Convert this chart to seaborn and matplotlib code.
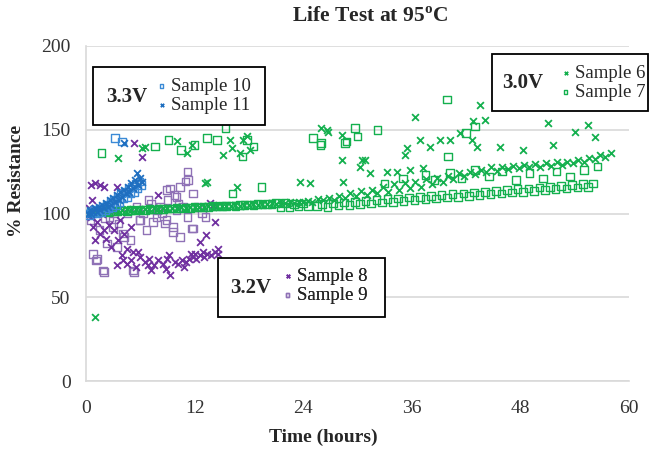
import matplotlib
matplotlib.use("Agg")
import matplotlib.pyplot as plt
from matplotlib.patches import Rectangle
import seaborn as sns

# ---------------- data ----------------
s6_hours = [0.5, 1.0, 1.5, 2.0, 2.5, 3.0, 3.5, 4.0, 4.5, 5.0, 5.5, 6.0, 6.5, 7.0, 7.5, 8.0, 8.5, 9.0, 9.5, 10.0,
            10.5, 11.0, 11.5, 12.0, 12.5, 13.0, 13.5, 14.0, 14.5, 15.0, 15.5, 16.0, 16.5, 17.0, 17.5, 18.0, 18.5,
            19.0, 19.5, 20.0, 20.5, 21.0, 21.5, 22.0, 22.5, 23.0, 23.5, 24.0, 24.5, 25.0,
            25.6, 26.2, 26.8, 27.4, 28.0, 28.6, 29.2, 29.8, 30.4, 31.0, 31.6, 32.2, 32.8, 33.4, 34.0, 34.6, 35.2,
            35.8, 36.4, 37.0, 37.6, 38.2, 38.8, 39.4, 40.0, 40.6, 41.2, 41.8, 42.4, 43.0, 43.6, 44.2, 44.8, 45.4,
            46.0, 46.6, 47.2, 47.8, 48.4, 49.0, 49.6, 50.2, 50.8, 51.4, 52.0, 52.6, 53.2, 53.8, 54.4, 55.0, 55.6,
            56.2, 56.8, 57.4, 58.0,
            1.0, 3.5, 6.2, 6.5, 10.0, 11.2, 11.7, 13.1, 13.4, 15.1, 15.9, 16.1, 16.7, 17.0, 17.3, 17.8, 18.1,
            23.6, 24.8, 26.0, 26.6, 26.7, 28.3, 28.3, 28.4, 30.3, 30.5, 30.8, 31.4, 33.3, 34.4, 35.2, 35.5, 35.8,
            36.4, 36.9, 37.2, 38.0, 39.1, 40.2, 41.3, 42.6, 42.8, 43.2, 43.5, 44.1, 45.7, 48.3, 51.0, 51.6, 54.0,
            55.5, 56.2]
s6_pct = [101.2, 101.0, 101.8, 101.5, 102.0, 101.6, 102.2, 102.0, 102.5, 102.1, 102.7, 102.3, 102.9, 102.6, 103.0,
          102.8, 103.3, 103.0, 103.5, 103.2, 103.7, 103.4, 103.9, 103.6, 104.1, 103.8, 104.3, 104.0, 104.5, 104.2,
          104.7, 104.5, 105.0, 104.7, 105.2, 105.0, 105.5, 105.2, 105.8, 105.5, 106.0, 105.7, 106.3, 106.0, 106.6,
          106.3, 106.9, 106.6, 107.2, 107.0,
          108.5, 107.8, 109.5, 108.2, 110.5, 109.0, 112.0, 110.2, 113.5, 111.0, 114.0, 112.5, 116.0, 113.0, 117.5,
          114.0, 118.0, 115.5, 119.0, 116.0, 120.5, 117.5, 121.0, 119.0, 122.5, 120.5, 124.0, 122.5, 125.0, 123.5,
          126.0, 125.0, 127.5, 125.5, 128.0, 126.5, 128.5, 127.0, 129.0, 127.5, 129.5, 128.0, 130.0, 128.5, 130.5,
          129.0, 131.0, 130.0, 132.0, 131.0, 133.0, 132.5, 135.0, 134.0, 136.0,
          38.0, 133.0, 139.0, 140.0, 143.0, 136.0, 141.0, 118.0, 119.0, 135.0, 144.0, 139.0, 116.0, 136.0, 144.0,
          146.0, 138.0, 119.0, 118.0, 151.0, 150.0, 148.6, 147.0, 132.0, 119.0, 128.0, 132.0, 132.0, 124.0, 125.0,
          125.0, 135.0, 139.0, 126.0, 157.6, 144.0, 127.0, 140.0, 144.0, 144.0, 148.0, 144.0, 155.0, 140.0, 164.8,
          156.0, 140.0, 138.0, 154.0, 141.0, 148.6, 153.0, 145.7]

s7_hours = [0.5, 1.0, 1.5, 2.0, 2.5, 3.0, 3.5, 4.0, 4.5, 5.0, 5.5, 6.0, 6.5, 7.0, 7.5, 8.0, 8.5, 9.0, 9.5, 10.0,
            10.5, 11.0, 11.5, 12.0, 12.5, 13.0, 13.5, 14.0, 14.5, 15.0, 15.5, 16.0, 16.5, 17.0, 17.5, 18.0, 18.5,
            19.0, 19.5, 20.0, 20.5, 21.0, 21.5, 22.0, 22.5, 23.0, 23.5, 24.0, 24.5,
            25.5, 26.1, 26.7, 27.3, 27.9, 28.5, 29.1, 29.7, 30.3, 30.9, 31.5, 32.1, 32.7, 33.3, 33.9, 34.5, 35.1,
            35.7, 36.3, 36.9, 37.5, 38.1, 38.7, 39.3, 39.9, 40.5, 41.1, 41.7, 42.3, 42.9, 43.5, 44.1, 44.7, 45.3,
            45.9, 46.5, 47.1, 47.7, 48.3, 48.9, 49.5, 50.1, 50.7, 51.3, 51.9, 52.5, 53.1, 53.7, 54.3, 54.9, 55.5,
            56.0,
            33.0, 35.0, 37.5, 38.5, 40.2, 41.5, 43.0, 44.5, 46.0, 47.5, 49.0, 50.5, 52.0, 53.5, 55.0, 56.5,
            1.7, 7.6, 9.1, 10.5, 12.0, 13.4, 14.5, 15.4, 16.2, 17.3, 17.8, 18.5, 19.4, 25.1, 25.9, 26.0, 28.6,
            28.8, 29.7, 30.0, 32.2, 39.9, 40.0, 42.0, 43.0]
s7_pct = [100.5, 100.8, 100.6, 101.2, 101.0, 101.5, 101.3, 101.8, 101.5, 102.0, 101.9, 102.3, 102.1, 102.6, 102.4,
          102.8, 102.6, 103.1, 102.9, 103.3, 103.1, 103.6, 103.4, 103.8, 103.6, 104.0, 103.9, 104.3, 104.1, 104.6,
          104.4, 104.8, 104.6, 105.1, 104.9, 105.3, 105.1, 105.6, 105.4, 105.8, 105.6, 106.1, 104.0, 106.3, 103.8,
          105.5, 104.2, 106.0, 104.5,
          104.5, 105.5, 104.0, 106.0, 104.8, 106.5, 105.2, 107.0, 105.5, 107.5, 106.0, 108.0, 106.5, 108.5, 107.0,
          109.0, 107.5, 109.5, 108.0, 110.0, 108.5, 110.5, 109.0, 111.0, 109.5, 111.5, 110.0, 112.0, 110.5, 112.5,
          111.0, 113.0, 111.5, 113.5, 112.0, 114.0, 112.5, 114.5, 113.0, 115.0, 113.5, 115.5, 114.0, 116.0, 114.5,
          116.5, 115.0, 117.0, 115.5, 117.5, 116.0, 118.0,
          118.0, 121.0, 123.0, 120.0, 124.0, 121.0, 126.0, 122.0, 125.0, 120.0, 124.0, 121.0, 125.0, 122.0, 126.0,
          128.0,
          136.0, 140.0, 144.0, 138.0, 141.0, 145.0, 144.0, 151.0, 112.0, 134.0, 144.0, 140.0, 116.0, 145.0, 141.0,
          142.0, 142.0, 143.0, 151.0, 146.0, 150.0, 168.0, 134.0, 148.0, 152.0]

s8_hours = [0.6, 1.0, 1.6, 2.0, 3.4, 5.3, 6.2, 8.0, 14.0, 13.7, 14.2, 13.3, 12.6, 14.6,
            0.5, 0.8, 1.2, 1.5, 1.8, 2.2, 2.5, 2.8, 3.1, 3.5, 3.8, 4.2, 4.5, 5.0, 1.0, 2.0, 0.3, 0.7,
            4.0, 4.5, 5.0, 5.5, 6.0, 6.5, 7.0, 7.5, 8.0, 8.5, 9.0, 9.3, 9.8, 10.2, 10.6, 11.0, 11.4, 11.8, 12.2,
            12.6, 13.0, 13.4, 13.8, 14.2, 14.6, 11.6, 12.9, 7.2, 8.8, 3.4, 4.1, 5.2, 5.8, 6.8, 9.2, 10.8, 12.0]
s8_pct = [117.0, 118.0, 117.0, 116.0, 116.0, 142.0, 134.0, 111.0, 105.0, 106.0, 95.0, 87.0, 83.0, 79.0,
          98.0, 92.0, 95.0, 88.0, 100.0, 85.0, 93.0, 80.0, 90.0, 84.0, 96.0, 88.0, 79.0, 92.0, 84.0, 90.0, 103.0,
          108.0,
          75.0, 70.0, 72.0, 68.0, 74.0, 71.0, 73.0, 69.0, 72.0, 70.0, 73.0, 63.0, 71.0, 70.0, 72.0, 71.0, 73.0,
          74.0, 73.0, 75.0, 74.0, 76.0, 75.0, 77.0, 76.0, 76.0, 77.0, 66.0, 67.0, 69.0, 72.0, 77.0, 77.0, 69.0,
          75.0, 68.0, 76.0]

s9_hours = [11.2, 11.3, 10.4, 9.3, 11.8, 10.0, 1.9, 1.2, 3.0, 4.1, 4.9, 6.0, 6.7, 7.8, 8.9, 9.6, 10.4, 11.8, 11.2,
            8.2, 10.0, 10.7, 5.2, 2.3, 0.8, 11.0, 8.9, 9.8, 11.7, 9.6, 8.7, 2.0, 1.1, 5.3, 5.9, 4.2, 3.4,
            0.5, 1.5, 2.6, 3.6, 4.6, 5.6, 6.3, 7.2, 7.4, 8.4, 9.0, 10.2, 12.3, 12.8, 13.2, 6.9, 7.9, 3.1, 2.1]
s9_pct = [125.0, 120.0, 116.0, 115.0, 112.0, 110.0, 66.0, 73.0, 92.0, 88.0, 84.0, 96.0, 90.0, 98.0, 96.0, 92.0,
          86.0, 91.0, 98.0, 104.0, 102.0, 104.0, 66.0, 82.0, 76.0, 119.0, 114.0, 111.0, 91.0, 89.0, 94.0, 65.0,
          72.0, 65.0, 96.0, 86.0, 80.0,
          96.0, 90.0, 98.0, 94.0, 100.0, 104.0, 100.0, 106.0, 95.0, 100.0, 108.0, 106.0, 104.0, 100.0, 98.0,
          108.0, 102.0, 100.0, 97.0]

s10_hours = [0.1, 0.3, 0.5, 0.7, 0.9, 1.1, 1.3, 1.5, 1.7, 1.9, 2.1, 2.3, 2.5, 2.7, 2.9, 3.1, 3.3, 3.5, 3.7, 3.9,
             4.1, 4.3, 4.5, 4.7, 4.9, 5.1, 5.3, 5.5, 5.7, 5.9, 6.1, 3.2, 4.0]
s10_pct = [100.0, 99.0, 101.0, 100.0, 102.0, 100.0, 101.0, 103.0, 101.0, 104.0, 102.0, 105.0, 103.0, 107.0, 104.0,
           108.0, 105.0, 110.0, 107.0, 112.0, 109.0, 113.0, 110.0, 115.0, 112.0, 116.0, 113.0, 118.0, 115.0,
           119.0, 117.0, 145.0, 143.0]

s11_hours = [0.2, 0.4, 0.6, 0.8, 1.0, 1.2, 1.4, 1.6, 1.8, 2.0, 2.2, 2.4, 2.6, 2.8, 3.0, 3.2, 3.4, 3.6, 3.8, 4.0,
             4.2, 4.4, 4.6, 4.8, 5.0, 5.2, 5.4, 5.6, 5.8, 6.0, 6.2, 4.2]
s11_pct = [100.0, 102.0, 100.0, 101.0, 103.0, 101.0, 104.0, 102.0, 105.0, 103.0, 106.0, 104.0, 108.0, 105.0,
           109.0, 107.0, 111.0, 108.0, 113.0, 110.0, 114.0, 112.0, 116.0, 113.0, 118.0, 115.0, 120.0, 124.0,
           117.0, 121.0, 119.0, 142.0]

x_ticks = [0, 12, 24, 36, 48, 60]
y_ticks = [0, 50, 100, 150, 200]
title_text = "Life Test at 95$^{\\mathbf{o}}$C"
x_label = "Time (hours)"
y_label = "% Resistance"

GREEN = "#14b04e"
PURPLE = "#7030a0"
LPURPLE = "#8f72b6"
BLUE = "#1f6fc0"
LBLUE = "#3b8ad6"
GRID = "#d9d9d9"

# ---------------- style ----------------
sns.set_style("white")
plt.rcParams["font.family"] = ["Liberation Serif", "DejaVu Serif"]
plt.rcParams["mathtext.fontset"] = "custom"
plt.rcParams["mathtext.rm"] = "Liberation Serif"
plt.rcParams["mathtext.bf"] = "Liberation Serif:bold"

fig = plt.figure(figsize=(6.52, 4.5), dpi=100)
ax = fig.add_axes([86 / 652, 1 - 381 / 450, 543 / 652, 335 / 450])


def draw(h, v, marker, color, label):
    if marker == "s":
        sns.scatterplot(x=h, y=v, marker="s", s=30, color=color, facecolor="none",
                        edgecolor=color, linewidth=1.0, label=label, ax=ax, zorder=3)
    else:
        sns.scatterplot(x=h, y=v, marker="x", s=24, color=color, linewidth=1.3,
                        label=label, ax=ax, zorder=3)


draw(s9_hours, s9_pct, "s", LPURPLE, "Sample 9")
draw(s8_hours, s8_pct, "x", PURPLE, "Sample 8")
draw(s7_hours, s7_pct, "s", GREEN, "Sample 7")
draw(s6_hours, s6_pct, "x", GREEN, "Sample 6")
draw(s10_hours, s10_pct, "s", LBLUE, "Sample 10")
draw(s11_hours, s11_pct, "x", BLUE, "Sample 11")

if ax.get_legend() is not None:
    ax.get_legend().remove()

ax.set_xlim(0, 60)
ax.set_ylim(0, 200)
ax.set_xticks(x_ticks)
ax.set_yticks(y_ticks)
ax.yaxis.grid(True, color=GRID, lw=1.2)
ax.xaxis.grid(False)
for side in ["top", "right"]:
    ax.spines[side].set_visible(False)
for side in ["left", "bottom"]:
    ax.spines[side].set_color(GRID)
    ax.spines[side].set_linewidth(1.2)
ax.tick_params(axis="both", direction="out", length=5, width=1.2, color=GRID,
               labelsize=14, labelcolor="#333333")
ax.tick_params(axis="x", pad=9)
ax.tick_params(axis="y", pad=6)

ax.set_xlabel(x_label, fontsize=14, fontweight="bold")
ax.set_ylabel(y_label, fontsize=14, fontweight="bold")
ax.xaxis.label.set_va("center")
ax.xaxis.set_label_coords((323 - 86) / 543, (381 - 437) / 335)
ax.yaxis.label.set_va("center")
ax.yaxis.set_label_coords((17 - 86) / 543, (381 - 181) / 335)

fig.text(370 / 652, 1 - 17 / 450, title_text, ha="center", va="center",
         fontsize=15.5, fontweight="bold")

# ---------------- legends in boxed groups ----------------
handles, labels = ax.get_legend_handles_labels()
hd = dict(zip(labels, handles))


def px_to_ax(px, py):
    return (px - 86) / 543, (381 - py) / 335


def group(box, volt_text, volt_xy, names, leg_xy):
    x0, y0 = px_to_ax(box[0], box[3])
    x1, y1 = px_to_ax(box[2], box[1])
    ax.add_patch(Rectangle((x0, y0), x1 - x0, y1 - y0, transform=ax.transAxes,
                           facecolor="white", edgecolor="black", lw=1.3,
                           zorder=5, clip_on=False))
    tx, ty = px_to_ax(*volt_xy)
    ax.text(tx, ty, volt_text, transform=ax.transAxes, ha="center", va="center",
            fontsize=15, fontweight="bold", zorder=7)
    lx, ly = px_to_ax(*leg_xy)
    leg = ax.legend([hd[n] for n in names], names, loc="center left",
                    bbox_to_anchor=(lx, ly), bbox_transform=ax.transAxes,
                    frameon=False, fontsize=13.5, handletextpad=0.15,
                    labelspacing=0.1, borderpad=0, borderaxespad=0,
                    handlelength=0.7, markerscale=0.5)
    leg.set_zorder(6)
    ax.add_artist(leg)


group((93, 67, 265, 125), "3.3V", (127, 97), ["Sample 10", "Sample 11"], (155, 96))
group((492, 54, 648, 111), "3.0V", (523, 83), ["Sample 6", "Sample 7"], (559, 83))
group((218, 258, 385, 317), "3.2V", (251, 288), ["Sample 8", "Sample 9"], (281, 286))

fig.savefig("out.png", dpi=100)
